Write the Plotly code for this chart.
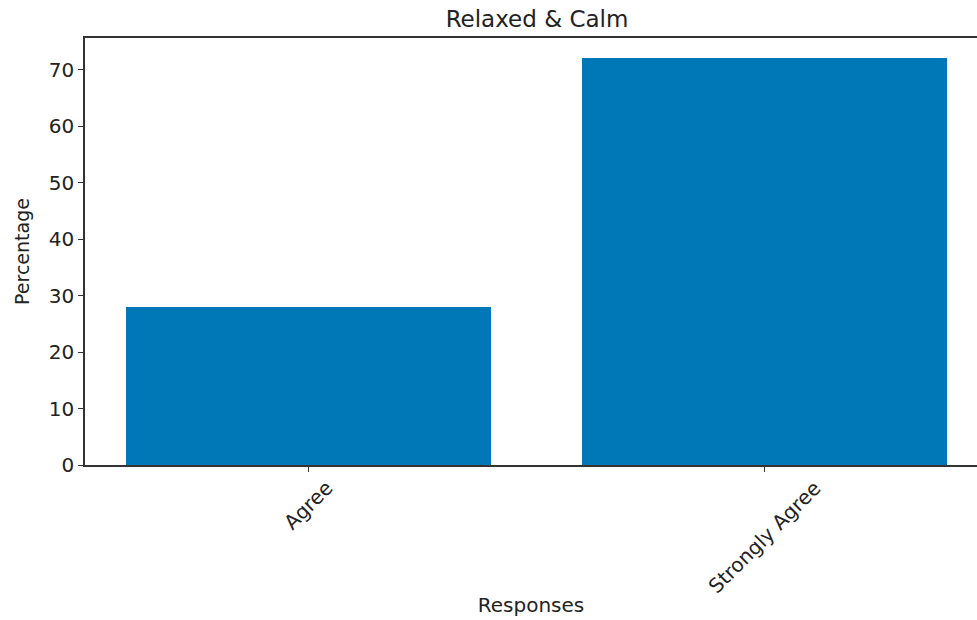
import plotly.graph_objects as go

categories = ["Agree", "Strongly Agree"]
values = [28, 72]
y_ticks = [0, 10, 20, 30, 40, 50, 60, 70]

FONT = "DejaVu Sans"
BAR_COLOR = "#0077B6"
AX_COLOR = "#333333"
TXT = "#222222"

x_pos = list(range(len(categories)))

fig = go.Figure()
fig.add_trace(go.Bar(
    x=x_pos, y=values, width=0.8,
    marker=dict(color=BAR_COLOR, line=dict(width=0)),
    showlegend=False, hoverinfo="x+y",
))

for xp, lab in zip(x_pos, categories):
    fig.add_annotation(
        x=xp, y=0, xref="x", yref="y", text=lab, showarrow=False,
        textangle=-45, xanchor="center", yanchor="top", yshift=-8,
        font=dict(family=FONT, size=20, color=TXT),
    )

fig.update_layout(
    width=977, height=620,
    margin=dict(l=85, r=0, t=38, b=155, autoexpand=False),
    paper_bgcolor="white", plot_bgcolor="white",
    font=dict(family=FONT, size=20, color=TXT),
    title=dict(text="Relaxed & Calm", x=537 / 977, xref="container", xanchor="center",
               y=1 - 19 / 620, yref="container", yanchor="middle",
               font=dict(family=FONT, size=23, color=TXT)),
    bargap=0,
)

fig.update_xaxes(
    range=[-0.49, 1.466], tickmode="array", tickvals=x_pos,
    showticklabels=False, ticks="outside", ticklen=5, tickwidth=1.2,
    tickcolor=AX_COLOR, showline=True, linecolor=AX_COLOR, linewidth=1.5,
    mirror=True, showgrid=False, zeroline=False, automargin=False,
    title=dict(text="Responses", standoff=127, font=dict(family=FONT, size=20, color=TXT)),
)
fig.update_yaxes(
    range=[0, 75.6], tickmode="array", tickvals=y_ticks,
    ticks="outside", ticklen=5, tickwidth=1.2, tickcolor=AX_COLOR,
    showline=True, linecolor=AX_COLOR, linewidth=1.5,
    showgrid=False, zeroline=False, automargin=False,
    tickfont=dict(family=FONT, size=20, color=TXT),
    title=dict(text="Percentage", standoff=14, font=dict(family=FONT, size=19, color=TXT)),
)

fig.write_html("out.html", config={"displayModeBar": False},
               post_script="document.body.style.margin='0';")
